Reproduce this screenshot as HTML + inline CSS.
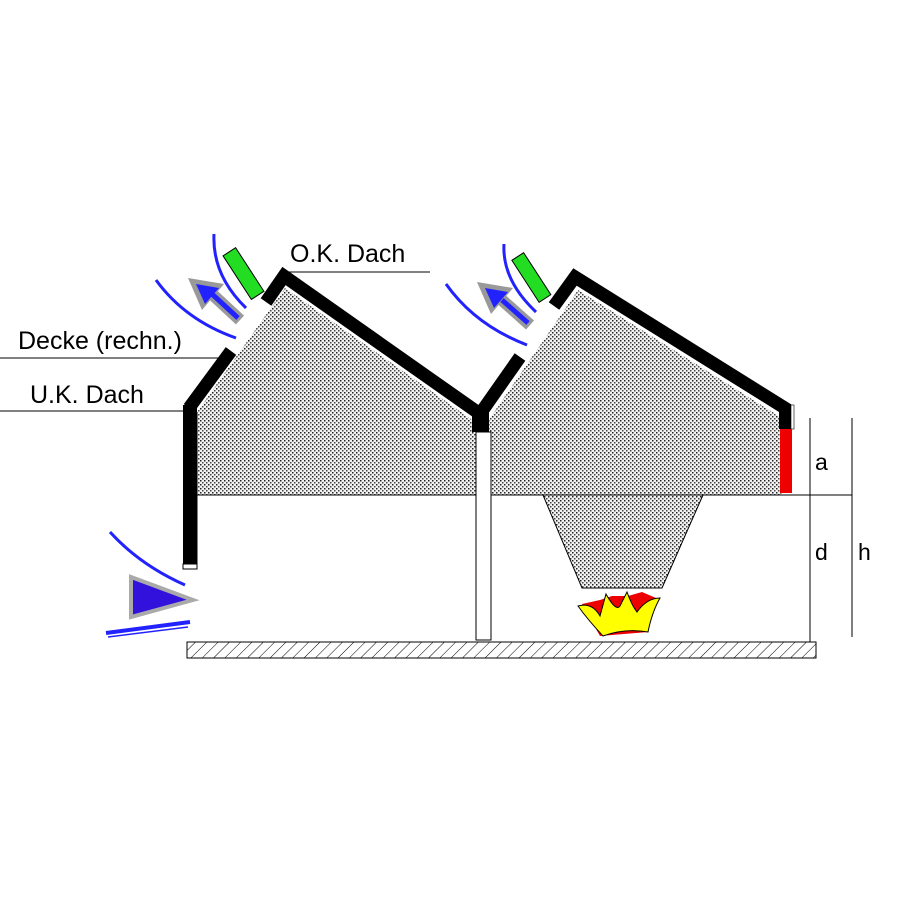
<!DOCTYPE html>
<html><head><meta charset="utf-8"><style>
html,body{margin:0;padding:0;background:#fff}
svg{display:block}
text{font-family:"Liberation Sans",Arial,sans-serif;fill:#000}
</style></head><body>
<svg width="900" height="900" viewBox="0 0 900 900" xmlns="http://www.w3.org/2000/svg">
<defs>
<pattern id="dots" width="4" height="4" patternUnits="userSpaceOnUse">
<rect width="4" height="4" fill="#f2f2f2"/>
<rect x="0" y="0" width="1.5" height="1.5" fill="#222"/>
<rect x="2" y="2" width="1.5" height="1.5" fill="#444"/>
</pattern>
<pattern id="hatch" width="8" height="8" patternUnits="userSpaceOnUse" patternTransform="rotate(45)">
<rect width="8" height="8" fill="#fff"/>
<line x1="0" y1="0" x2="0" y2="8" stroke="#000" stroke-width="1"/>
</pattern>
</defs>

<path d="M197,412 L285,288 L478,424 L490,418 L578,290 L782,418 L782,495 L703,495 L662,588 L582,588 L543,495 L197,495 Z" fill="url(#dots)"/>
<line x1="197" y1="495" x2="852" y2="495" stroke="#000" stroke-width="1"/>
<path d="M543,495 L582,588 L662,588 L703,495" fill="none" stroke="#000" stroke-width="1"/>

<rect x="183" y="405" width="14" height="162" fill="#000"/>
<rect x="183" y="564" width="14" height="5" fill="#fff" stroke="#000" stroke-width="1"/>
<line x1="197" y1="412" x2="197" y2="566" stroke="#000"/>

<polyline points="189,408 231,351" fill="none" stroke="#000" stroke-width="13"/>
<polyline points="266,302 284,276 480,414 520,357" fill="none" stroke="#000" stroke-width="13" stroke-linejoin="miter"/>
<polyline points="554,306 575,277 788,410" fill="none" stroke="#000" stroke-width="13"/>
<rect x="472" y="410" width="17" height="22" fill="#000"/>
<rect x="779" y="405" width="13" height="24" fill="#000"/>
<rect x="791" y="405" width="3" height="24" fill="#fff" stroke="#000" stroke-width="0.6"/>
<rect x="780" y="429" width="12" height="64" fill="#e00"/>

<rect x="476" y="432" width="15" height="208" fill="#fff" stroke="#000" stroke-width="1"/>

<rect x="187" y="642" width="629" height="16" fill="url(#hatch)" stroke="#000" stroke-width="1"/>

<line x1="810" y1="418" x2="810" y2="642" stroke="#000"/>
<line x1="852" y1="418" x2="852" y2="637" stroke="#000"/>
<text x="815" y="470" font-size="23">a</text>
<text x="815" y="560" font-size="23">d</text>
<text x="858" y="560" font-size="23">h</text>

<text x="290" y="262" font-size="25">O.K. Dach</text>
<line x1="285" y1="272" x2="430" y2="272" stroke="#000"/>
<text x="18" y="349" font-size="25">Decke (rechn.)</text>
<line x1="0" y1="358" x2="222" y2="358" stroke="#000"/>
<text x="30" y="403" font-size="25">U.K. Dach</text>
<line x1="0" y1="411" x2="184" y2="411" stroke="#000"/>

<g transform="rotate(-33 245 275)"><rect x="237" y="247" width="15" height="52" fill="#2d2" stroke="#000" stroke-width="1"/></g>
<g transform="rotate(-33 533 280)"><rect x="526" y="252" width="14" height="50" fill="#2d2" stroke="#000" stroke-width="1"/></g>

<path d="M214,234 Q212,275 246,308" fill="none" stroke="#22f" stroke-width="3"/>
<path d="M156,280 Q185,320 236,338" fill="none" stroke="#22f" stroke-width="3"/>
<path d="M240,320 L212,294" stroke="#999" stroke-width="12"/>
<path d="M188,278 L224,284 L202,310 Z" fill="#999"/>
<path d="M238,318 L212,294" stroke="#22f" stroke-width="5"/>
<path d="M196,284 L219,288 L205,304 Z" fill="#22f"/>

<path d="M504,244 Q502,280 536,312" fill="none" stroke="#22f" stroke-width="3"/>
<path d="M446,284 Q475,325 527,345" fill="none" stroke="#22f" stroke-width="3"/>
<path d="M530,325 L502,300" stroke="#999" stroke-width="12"/>
<path d="M477,282 L513,288 L491,314 Z" fill="#999"/>
<path d="M528,323 L502,300" stroke="#22f" stroke-width="5"/>
<path d="M485,288 L508,292 L494,308 Z" fill="#22f"/>

<path d="M110,532 Q140,565 185,585" fill="none" stroke="#22f" stroke-width="3"/>
<path d="M131,577 L193,600 L131,617 Z" fill="#3311dd" stroke="#aaa" stroke-width="4"/>
<path d="M106,633 L190,622" stroke="#22f" stroke-width="4"/>
<path d="M108,637 L188,627" stroke="#22f" stroke-width="1.5"/>

<path d="M582,604 L600,600 L612,596 L628,596 L642,592 L656,598 L654,606 L648,632 L600,636 Z" fill="#e00"/>
<path d="M578,606 Q592,602 600,616 L606,594 Q616,612 620,606 L627,592 Q632,606 637,612 Q647,598 660,598 Q652,612 648,632 Q625,628 603,636 Q588,620 578,606 Z" fill="#ff0" stroke="#000" stroke-width="1"/>
</svg>
</body></html>
